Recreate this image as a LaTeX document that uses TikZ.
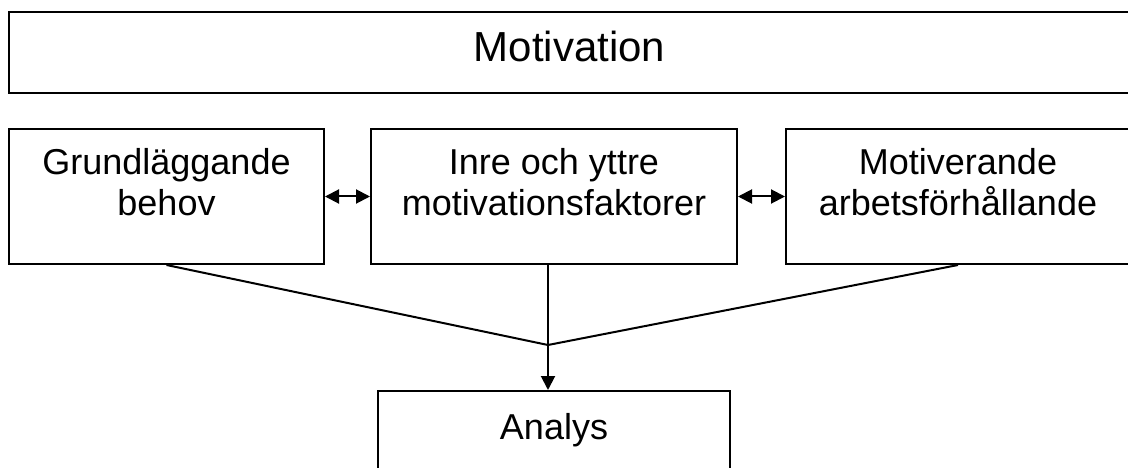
\documentclass[tikz,border=0pt]{standalone}
\usepackage{fontspec}
\setmainfont{Liberation Sans}
\usetikzlibrary{arrows.meta, positioning}

\begin{document}
\begin{tikzpicture}[
  x=1pt, y=-1pt,
  block/.style = {draw, line width=2pt, align=center, minimum height=135pt,
    font=\fontsize{36}{41}\selectfont},
  arrow/.style = {line width=2pt, -{Triangle[length=14pt, width=14pt]}},
  twoway/.style = {line width=2pt,
    {Triangle[length=14pt, width=14pt]}-{Triangle[length=14pt, width=14pt]}},
  node distance=125pt and 45pt
]
  \useasboundingbox (0,0) rectangle (1128,468);
  \clip (0,0) rectangle (1128,468);

  % heading across the whole width
  \node[block, minimum width=1121pt, minimum height=81pt, text height=30pt, text depth=11pt,
    font=\fontsize{42}{48}\selectfont] (motivation) at (569.5,52.5) {Motivation};

  % the three parts, side by side
  \node[block, minimum width=315pt, text height=67pt, text depth=30pt] (grund) at (166.5,196.5) {Grundläggande\\behov};
  \node[block, minimum width=366pt, text height=67pt, text depth=30pt, right=45pt of grund] (inre) {Inre och yttre\\motivationsfaktorer};
  \node[block, minimum width=344pt, text height=67pt, text depth=30pt, right=47pt of inre] (arbete) {Motiverande\\arbetsförhållande};

  \draw[twoway] (grund) -- (inre);
  \draw[twoway] (inre) -- (arbete);

  % result
  \node[block, minimum width=352pt, minimum height=79pt, below=125pt of inre] (analys) {Analys};

  \coordinate (join) at (548,345);
  \draw[line width=2pt] (grund.south) -- (join) -- (arbete.south);
  \draw[arrow] (join |- inre.south) -- (join |- analys.north);

\end{tikzpicture}
\end{document}
